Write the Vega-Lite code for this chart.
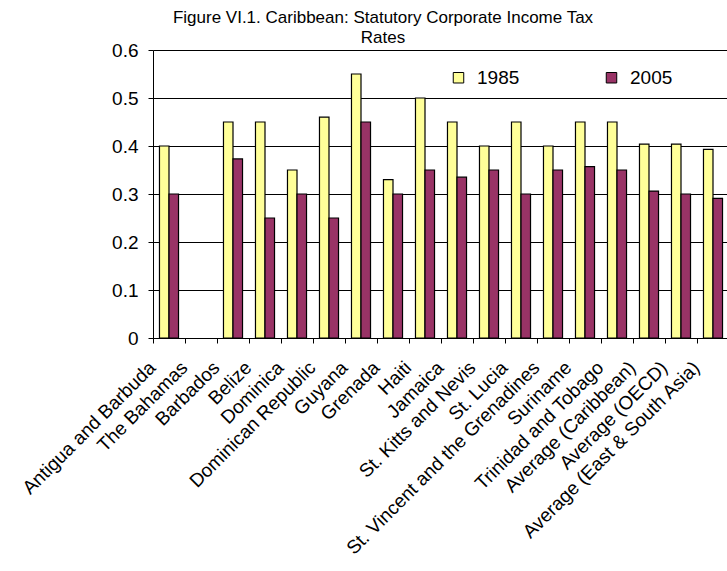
{
  "$schema": "https://vega.github.io/schema/vega-lite/v6.json",
  "autosize": {"type": "none"},
  "padding": {"left": 153, "top": 50, "right": 0, "bottom": 233},
  "width": 576,
  "height": 288,
  "background": "white",
  "title": {
    "text": ["Figure VI.1. Caribbean: Statutory Corporate Income Tax", "Rates"],
    "font": "Liberation Sans",
    "fontSize": 17,
    "fontWeight": "normal",
    "color": "black",
    "anchor": "middle",
    "dx": -58,
    "dy": 10,
    "offset": 4,
    "lineHeight": 20
  },
  "config": {
    "view": {"stroke": null},
    "font": "Liberation Sans"
  },
  "data": {
    "values": [
      {"country": "Antigua and Barbuda", "year": "1985", "rate": 0.40},
      {"country": "Antigua and Barbuda", "year": "2005", "rate": 0.30},
      {"country": "Barbados", "year": "1985", "rate": 0.45},
      {"country": "Barbados", "year": "2005", "rate": 0.373},
      {"country": "Belize", "year": "1985", "rate": 0.45},
      {"country": "Belize", "year": "2005", "rate": 0.25},
      {"country": "Dominica", "year": "1985", "rate": 0.35},
      {"country": "Dominica", "year": "2005", "rate": 0.30},
      {"country": "Dominican Republic", "year": "1985", "rate": 0.46},
      {"country": "Dominican Republic", "year": "2005", "rate": 0.25},
      {"country": "Guyana", "year": "1985", "rate": 0.55},
      {"country": "Guyana", "year": "2005", "rate": 0.45},
      {"country": "Grenada", "year": "1985", "rate": 0.33},
      {"country": "Grenada", "year": "2005", "rate": 0.30},
      {"country": "Haiti", "year": "1985", "rate": 0.50},
      {"country": "Haiti", "year": "2005", "rate": 0.35},
      {"country": "Jamaica", "year": "1985", "rate": 0.45},
      {"country": "Jamaica", "year": "2005", "rate": 0.335},
      {"country": "St. Kitts and Nevis", "year": "1985", "rate": 0.40},
      {"country": "St. Kitts and Nevis", "year": "2005", "rate": 0.35},
      {"country": "St. Lucia", "year": "1985", "rate": 0.45},
      {"country": "St. Lucia", "year": "2005", "rate": 0.30},
      {"country": "St. Vincent and the Grenadines", "year": "1985", "rate": 0.40},
      {"country": "St. Vincent and the Grenadines", "year": "2005", "rate": 0.35},
      {"country": "Suriname", "year": "1985", "rate": 0.45},
      {"country": "Suriname", "year": "2005", "rate": 0.357},
      {"country": "Trinidad and Tobago", "year": "1985", "rate": 0.45},
      {"country": "Trinidad and Tobago", "year": "2005", "rate": 0.35},
      {"country": "Average (Caribbean)", "year": "1985", "rate": 0.404},
      {"country": "Average (Caribbean)", "year": "2005", "rate": 0.306},
      {"country": "Average (OECD)", "year": "1985", "rate": 0.404},
      {"country": "Average (OECD)", "year": "2005", "rate": 0.30},
      {"country": "Average (East & South Asia)", "year": "1985", "rate": 0.393},
      {"country": "Average (East & South Asia)", "year": "2005", "rate": 0.291}
    ]
  },
  "mark": {"type": "bar", "stroke": "black", "strokeWidth": 1.2},
  "encoding": {
    "x": {
      "field": "country",
      "type": "nominal",
      "scale": {
        "domain": ["Antigua and Barbuda", "The Bahamas", "Barbados", "Belize", "Dominica", "Dominican Republic", "Guyana", "Grenada", "Haiti", "Jamaica", "St. Kitts and Nevis", "St. Lucia", "St. Vincent and the Grenadines", "Suriname", "Trinidad and Tobago", "Average (Caribbean)", "Average (OECD)", "Average (East & South Asia)"],
        "paddingInner": 0,
        "paddingOuter": 0
      },
      "axis": {
        "title": null,
        "labelAngle": -45,
        "labelAlign": "right",
        "labelBaseline": "top",
        "labelFontSize": 19,
        "labelColor": "black",
        "labelPadding": 15,
        "labelOffset": -23,
        "labelLimit": 400,
        "labelOverlap": false,
        "bandPosition": 0,
        "domainColor": "black",
        "tickColor": "black",
        "tickSize": 5,
        "grid": false
      }
    },
    "xOffset": {
      "field": "year",
      "type": "nominal",
      "scale": {"paddingInner": 0, "paddingOuter": 0.68}
    },
    "y": {
      "field": "rate",
      "type": "quantitative",
      "scale": {"domain": [0, 0.6], "nice": false},
      "axis": {
        "title": null,
        "values": [0, 0.1, 0.2, 0.3, 0.4, 0.5, 0.6],
        "labelExpr": "datum.value == 0 ? '0' : format(datum.value, '.1f')",
        "labelFontSize": 19,
        "labelColor": "black",
        "labelPadding": 10,
        "domainColor": "black",
        "tickColor": "black",
        "tickSize": 5,
        "grid": true,
        "gridColor": "black",
        "gridWidth": 1,
        "gridOpacity": 1
      }
    },
    "fill": {
      "field": "year",
      "type": "nominal",
      "scale": {"domain": ["1985", "2005"], "range": ["#FFFF99", "#993366"]},
      "legend": {
        "title": null,
        "orient": "none",
        "legendX": 296,
        "legendY": 18,
        "direction": "horizontal",
        "symbolType": "square",
        "symbolSize": 110,
        "symbolStrokeColor": "black",
        "symbolStrokeWidth": 1,
        "labelFontSize": 19,
        "labelColor": "black",
        "columnPadding": 82,
        "labelOffset": 9
      }
    }
  }
}
